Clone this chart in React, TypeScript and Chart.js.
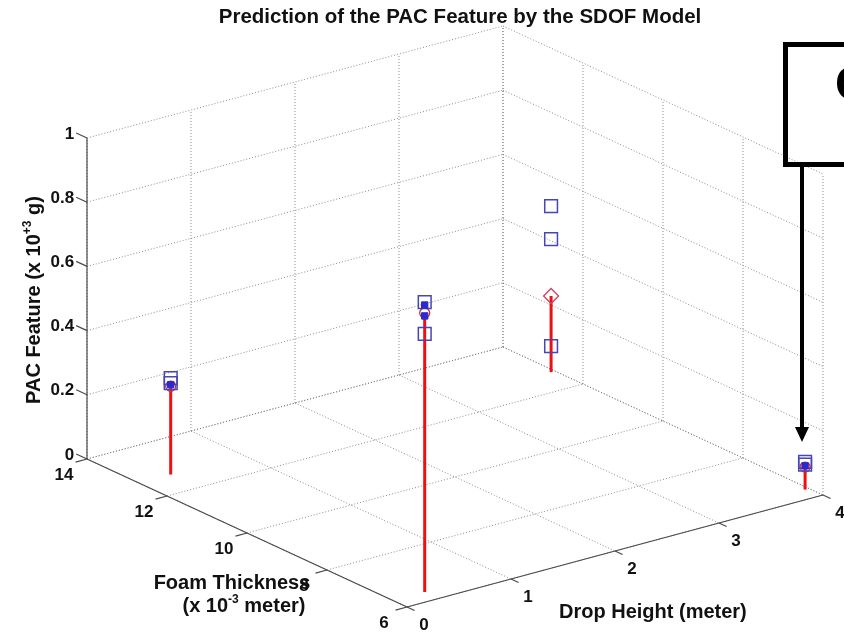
import React, { useEffect, useRef } from 'react';
import { Chart, registerables } from 'chart.js';

Chart.register(...registerables);

// ---------------- data ----------------
const TITLE = 'Prediction of the PAC Feature by the SDOF Model';
const DROP_TICKS = [0, 1, 2, 3, 4];
const FOAM_TICKS = [6, 8, 10, 12, 14];
const PAC_TICKS = [0, 0.2, 0.4, 0.6, 0.8, 1];
const PAC_TICK_LABELS = ['0', '0.2', '0.4', '0.6', '0.8', '1'];
const DROP_TICK_LABELS = ['0', '1', '2', '3', '4'];
const FOAM_TICK_LABELS = ['6', '8', '10', '12', '14'];

// test locations (drop height in meter, foam thickness in 10^-3 meter)
const DROP_HEIGHT = [0.3048, 0.3048, 3.9624, 3.9624];
const FOAM_THICKNESS = [12.7, 6.35, 12.7, 6.35];
// SDOF prediction (stems)
const PAC_PREDICTED = [0.275, 0.869, 0.237, 0.07];
const PREDICTED_MARKER = ['circle', 'circle', 'rectRot', 'circle'];
// measured PAC (open squares)
const PAC_TEST_1 = [0.3, 0.903, 0.517, 0.086];
const PAC_TEST_2 = [0.285, 0.804, 0.414, 0.078];
const PAC_TEST_3 = [null, null, 0.081, null];
// filled markers
const PAC_MEAN_1 = [0.28, 0.894, null, 0.074];
const PAC_MEAN_2 = [null, 0.86, null, null];

// ---------------- view (projection) ----------------
const W = 844;
const H = 633;
const VIEW = { ox: 87, oy: 459, dx: 104, dy: -28, fx: 40, fy: 18.5, zy: -321 };
const FOAM_MAX = 14;
const FOAM_MIN = 6;
const DROP_MIN = 0;
const DROP_MAX = 4;
const PAC_MIN = 0;
const PAC_MAX = 1;

function proj(d: number, f: number, z: number) {
  const a = FOAM_MAX - f;
  return {
    x: VIEW.ox + d * VIEW.dx + a * VIEW.fx,
    y: VIEW.oy + d * VIEW.dy + a * VIEW.fy + z * VIEW.zy,
  };
}

const GRID_COLOR = 'rgba(120,120,120,0.85)';
const AXIS_COLOR = '#4a4a4a';
const SQUARE_COLOR = '#4646b4';
const RED = '#ee1010';
const FONT = '"Liberation Sans", Arial, Helvetica, sans-serif';

function seg(p: any, q: any, style: any) {
  return {
    data: [p, q],
    showLine: true,
    pointRadius: 0,
    pointHoverRadius: 0,
    fill: false,
    clip: false,
    ...style,
  };
}

function buildDatasets() {
  const ds: any[] = [];
  const grid = { borderColor: GRID_COLOR, borderWidth: 1, borderDash: [1, 2], order: 20 };
  // back wall f = max
  DROP_TICKS.forEach((d) => ds.push(seg(proj(d, FOAM_MAX, PAC_MIN), proj(d, FOAM_MAX, PAC_MAX), grid)));
  PAC_TICKS.forEach((z) => ds.push(seg(proj(DROP_MIN, FOAM_MAX, z), proj(DROP_MAX, FOAM_MAX, z), grid)));
  // side wall d = max
  FOAM_TICKS.forEach((f) => ds.push(seg(proj(DROP_MAX, f, PAC_MIN), proj(DROP_MAX, f, PAC_MAX), grid)));
  PAC_TICKS.forEach((z) => ds.push(seg(proj(DROP_MAX, FOAM_MAX, z), proj(DROP_MAX, FOAM_MIN, z), grid)));
  // floor
  DROP_TICKS.forEach((d) => ds.push(seg(proj(d, FOAM_MAX, PAC_MIN), proj(d, FOAM_MIN, PAC_MIN), grid)));
  FOAM_TICKS.forEach((f) => ds.push(seg(proj(DROP_MIN, f, PAC_MIN), proj(DROP_MAX, f, PAC_MIN), grid)));

  // axes
  const axis = { borderColor: AXIS_COLOR, borderWidth: 1.2, order: 10 };
  ds.push(seg(proj(DROP_MIN, FOAM_MAX, PAC_MIN), proj(DROP_MIN, FOAM_MAX, PAC_MAX), axis));
  ds.push(seg(proj(DROP_MIN, FOAM_MAX, PAC_MIN), proj(DROP_MIN, FOAM_MIN, PAC_MIN), axis));
  ds.push(seg(proj(DROP_MIN, FOAM_MIN, PAC_MIN), proj(DROP_MAX, FOAM_MIN, PAC_MIN), axis));
  // ticks
  PAC_TICKS.forEach((z) => ds.push(seg(proj(DROP_MIN, FOAM_MAX, z), proj(DROP_MIN, FOAM_MAX + 0.27, z), axis)));
  FOAM_TICKS.forEach((f) => ds.push(seg(proj(DROP_MIN, f, PAC_MIN), proj(DROP_MIN - 0.11, f, PAC_MIN), axis)));
  DROP_TICKS.forEach((d) => ds.push(seg(proj(d, FOAM_MIN, PAC_MIN), proj(d, FOAM_MIN - 0.19, PAC_MIN), axis)));

  // stems (prediction)
  PAC_PREDICTED.forEach((z, i) => {
    ds.push(seg(proj(DROP_HEIGHT[i], FOAM_THICKNESS[i], 0), proj(DROP_HEIGHT[i], FOAM_THICKNESS[i], z), {
      borderColor: RED,
      borderWidth: 3,
      order: 5,
    }));
  });

  const pts = (vals: (number | null)[]) =>
    vals
      .map((z, i) => (z == null ? null : proj(DROP_HEIGHT[i], FOAM_THICKNESS[i], z)))
      .filter((p) => p != null);

  // predicted markers
  ds.push({
    data: PAC_PREDICTED.map((z, i) => proj(DROP_HEIGHT[i], FOAM_THICKNESS[i], z)),
    showLine: false,
    pointStyle: PREDICTED_MARKER,
    pointRadius: PREDICTED_MARKER.map((m) => (m === 'rectRot' ? 7.5 : 5)),
    pointBorderColor: PREDICTED_MARKER.map((m) => (m === 'rectRot' ? '#d04060' : '#d03030')),
    pointBackgroundColor: 'rgba(0,0,0,0)',
    pointBorderWidth: 1.3,
    clip: false,
    order: 3,
  });
  // measured squares
  [PAC_TEST_1, PAC_TEST_2, PAC_TEST_3].forEach((vals) => {
    ds.push({
      data: pts(vals),
      showLine: false,
      pointStyle: 'rect',
      pointRadius: 9,
      pointBorderColor: SQUARE_COLOR,
      pointBackgroundColor: 'rgba(0,0,0,0)',
      pointBorderWidth: 1.5,
      clip: false,
      order: 2,
    });
  });
  // filled markers
  [PAC_MEAN_1, PAC_MEAN_2].forEach((vals) => {
    ds.push({
      data: pts(vals),
      showLine: false,
      pointStyle: 'rect',
      pointRadius: 4.5,
      pointBorderColor: '#2a2ad0',
      pointBackgroundColor: '#2a2ad0',
      pointBorderWidth: 1,
      clip: false,
      order: 1,
    });
  });
  return ds;
}

function drawSupText(ctx: CanvasRenderingContext2D, parts: [string, boolean][], cx: number, cy: number, size: number) {
  const big = `bold ${size}px ${FONT}`;
  const small = `bold ${Math.round(size * 0.62)}px ${FONT}`;
  let total = 0;
  parts.forEach(([t, sup]) => {
    ctx.font = sup ? small : big;
    total += ctx.measureText(t).width;
  });
  let x = cx - total / 2;
  const base = cy + size * 0.36;
  ctx.textAlign = 'left';
  ctx.textBaseline = 'alphabetic';
  parts.forEach(([t, sup]) => {
    ctx.font = sup ? small : big;
    ctx.fillText(t, x, sup ? base - size * 0.45 : base);
    x += ctx.measureText(t).width;
  });
}

const textPlugin = {
  id: 'texts3d',
  afterDatasetsDraw(chart: any) {
    const ctx: CanvasRenderingContext2D = chart.ctx;
    const sx = chart.scales.x;
    const sy = chart.scales.y;
    const px = (p: any) => ({ x: sx.getPixelForValue(p.x), y: sy.getPixelForValue(p.y) });
    ctx.save();
    ctx.fillStyle = '#111';

    // title
    ctx.font = `bold 20.5px ${FONT}`;
    ctx.textAlign = 'center';
    ctx.textBaseline = 'middle';
    ctx.fillText(TITLE, 460, 17);

    // PAC tick labels
    ctx.font = `bold 17px ${FONT}`;
    ctx.textAlign = 'right';
    ctx.textBaseline = 'middle';
    PAC_TICKS.forEach((z, i) => {
      const p = px(proj(DROP_MIN, FOAM_MAX + 0.27, z));
      ctx.fillText(PAC_TICK_LABELS[i], p.x - 2, p.y + 1);
    });
    // foam tick labels
    ctx.textAlign = 'center';
    FOAM_TICKS.forEach((f, i) => {
      const p = px(proj(DROP_MIN, f, PAC_MIN));
      ctx.fillText(FOAM_TICK_LABELS[i], p.x - 23, p.y + 16);
    });
    // drop tick labels
    DROP_TICKS.forEach((d, i) => {
      const p = px(proj(d, FOAM_MIN, PAC_MIN));
      ctx.fillText(DROP_TICK_LABELS[i], p.x + 17, p.y + 18);
    });

    // axis titles
    ctx.font = `bold 20px ${FONT}`;
    ctx.textAlign = 'center';
    ctx.fillText('Foam Thickness', 232, 583);
    drawSupText(ctx, [['(x 10', false], ['-3', true], [' meter)', false]], 244, 605, 20);
    ctx.textAlign = 'left';
    ctx.font = `bold 20px ${FONT}`;
    ctx.textBaseline = 'middle';
    ctx.fillText('Drop Height (meter)', 559, 612);

    ctx.save();
    ctx.translate(33, 300);
    ctx.rotate(-Math.PI / 2);
    drawSupText(ctx, [['PAC Feature (x 10', false], ['+3', true], [' g)', false]], 0, 0, 20);
    ctx.restore();

    // annotation box + arrow
    ctx.strokeStyle = '#000';
    ctx.lineWidth = 5;
    ctx.strokeRect(785.5, 44.5, 120, 120);
    ctx.fillStyle = '#000';
    ctx.fillRect(800, 166, 4, 262);
    ctx.beginPath();
    ctx.moveTo(795, 427);
    ctx.lineTo(809, 427);
    ctx.lineTo(802, 442);
    ctx.closePath();
    ctx.fill();
    ctx.font = `bold 48px ${FONT}`;
    ctx.textAlign = 'left';
    ctx.textBaseline = 'alphabetic';
    ctx.fillText('C', 835, 100);
    ctx.restore();
  },
};

export default function App() {
  const ref = useRef<HTMLCanvasElement | null>(null);
  useEffect(() => {
    document.body.style.margin = '0';
    const canvas = ref.current;
    if (!canvas) return;
    const chart = new Chart(canvas, {
      type: 'scatter',
      data: { datasets: buildDatasets() },
      options: {
        animation: false,
        responsive: false,
        maintainAspectRatio: false,
        devicePixelRatio: 1,
        events: [],
        layout: { padding: 0, autoPadding: false },
        plugins: {
          legend: { display: false },
          tooltip: { enabled: false },
          title: { display: false },
        },
        scales: {
          x: { type: 'linear', min: 0, max: W, display: false },
          y: { type: 'linear', min: 0, max: H, reverse: true, display: false },
        },
      } as any,
      plugins: [textPlugin],
    });
    return () => chart.destroy();
  }, []);
  return (
    <div style={{ width: W, height: H, background: '#fff' }}>
      <canvas ref={ref} width={W} height={H} style={{ display: 'block' }} />
    </div>
  );
}
